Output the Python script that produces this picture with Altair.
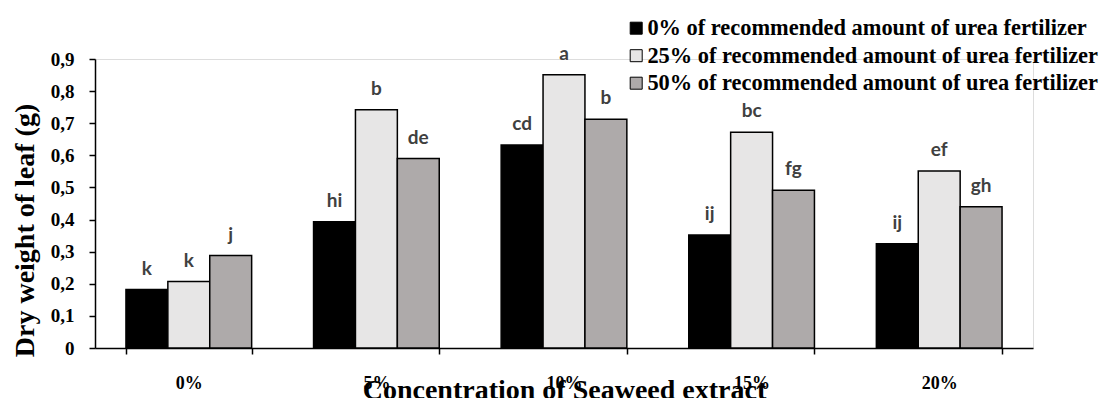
import altair as alt
import pandas as pd

# ---- data ----
concentrations = ["0%", "5%", "10%", "15%", "20%"]
series = [
    "0% of recommended amount of urea fertilizer",
    "25% of recommended amount of urea fertilizer",
    "50% of recommended amount of urea fertilizer",
]
urea_0 = [0.182, 0.393, 0.632, 0.352, 0.325]
urea_25 = [0.207, 0.742, 0.851, 0.672, 0.551]
urea_50 = [0.288, 0.590, 0.712, 0.491, 0.440]
letters_0 = ["k", "hi", "cd", "ij", "ij"]
letters_25 = ["k", "b", "a", "bc", "ef"]
letters_50 = ["j", "de", "b", "fg", "gh"]
y_ticks = [0, 0.1, 0.2, 0.3, 0.4, 0.5, 0.6, 0.7, 0.8, 0.9]
bar_colors = ["#000000", "#e7e6e6", "#aeaaaa"]

rows = []
for s, vals, lets in zip(series, [urea_0, urea_25, urea_50], [letters_0, letters_25, letters_50]):
    for c, v, l in zip(concentrations, vals, lets):
        rows.append({"conc": c, "series": s, "value": v, "letter": l})
df = pd.DataFrame(rows)

SERIF = "Liberation Serif"

x_enc = alt.X(
    "conc:N",
    sort=concentrations,
    scale=alt.Scale(paddingInner=0.33, paddingOuter=0.165),
    axis=alt.Axis(
        title="Concentration of Seaweed extract",
        titleFont=SERIF, titleFontSize=28, titleFontWeight="bold", titleColor="black",
        titleY=50, titleBaseline="alphabetic",
        labelAngle=0, labelFont=SERIF, labelFontSize=18, labelFontWeight="bold",
        labelColor="black", labelBaseline="alphabetic", labelPadding=34, labelOverlap=False,
        tickBand="extent", tickSize=6, tickColor="black", tickWidth=1.5,
        domainColor="black", domainWidth=1.5, grid=False,
    ),
)
xoff_enc = alt.XOffset("series:N", sort=series, scale=alt.Scale(paddingInner=0, paddingOuter=0))
y_enc = alt.Y(
    "value:Q",
    scale=alt.Scale(domain=[0, 0.9], nice=False, zero=True),
    axis=alt.Axis(
        values=y_ticks,
        labelExpr="datum.value == 0 ? '0' : replace(format(datum.value, '.1f'), '.', ',')",
        labelOverlap=False,
        title="Dry weight of leaf (g)",
        titleFont=SERIF, titleFontSize=28, titleFontWeight="bold", titleColor="black",
        titleX=-62, titleY=171, titleAngle=270, titleBaseline="alphabetic", titleAlign="center",
        labelFont=SERIF, labelFontSize=19, labelFontWeight="bold", labelColor="black",
        labelPadding=15, tickSize=6, tickColor="black", tickWidth=1.5,
        domainColor="black", domainWidth=1.5, grid=False,
    ),
)

base = alt.Chart(df).encode(x=x_enc, xOffset=xoff_enc, y=y_enc)

bars = base.mark_bar(stroke="black", strokeWidth=1.5).encode(
    color=alt.Color(
        "series:N",
        sort=series,
        scale=alt.Scale(domain=series, range=bar_colors),
        legend=alt.Legend(
            title=None, orient="none", legendX=530, legendY=-42,
            symbolType="square", symbolSize=144, symbolStrokeColor="black",
            symbolStrokeWidth=1, symbolOpacity=1,
            labelFont=SERIF, labelFontSize=22.4, labelFontWeight="bold", labelColor="black",
            labelLimit=700, labelOffset=0, rowPadding=4.5, padding=0,
        ),
    ),
)

labels = base.mark_text(
    font="Lato", fontWeight="bold", fontSize=19, color="#404040",
    dy=-15, baseline="alphabetic", align="center",
).encode(text="letter:N")

chart = alt.layer(bars, labels).properties(
    width=938,
    height=289,
    autosize=alt.AutoSizeParams(type="none"),
    padding={"left": 87, "top": 51, "right": 79, "bottom": 50},
).configure_view(stroke=None).configure(background="white")

chart.save("out.html", embed_options={"renderer": "svg", "actions": False})
